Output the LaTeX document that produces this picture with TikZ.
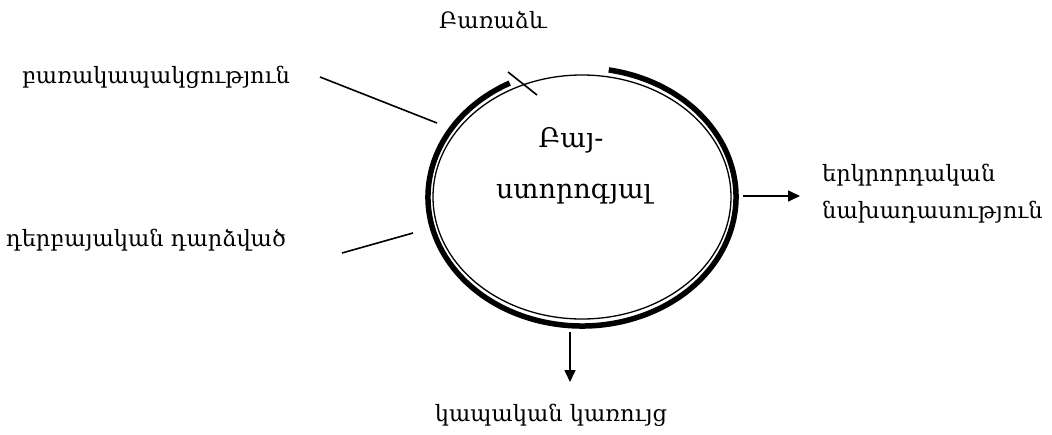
\documentclass[tikz,border=0pt]{standalone}
\usepackage{fontspec}
\setmainfont{DejaVu Serif}
\usetikzlibrary{arrows.meta}
\begin{document}
\begin{tikzpicture}[x=1pt,y=-1pt,
  lbl/.style={font=\fontsize{22.5}{37}\selectfont, inner sep=0pt},
  ctext/.style={font=\fontsize{27}{30}\selectfont, inner sep=0pt},
  conn/.style={line width=1.6pt},
  arr/.style={line width=1.6pt,-{Triangle[length=12pt,width=11pt]}}]
\useasboundingbox (0,0) rectangle (1052,434);
% ellipses
\coordinate (c) at (582,197);
\draw[line width=5.5pt] ([shift={(-118:154 and 129)}]c) arc[start angle=-118,end angle=-440,x radius=154,y radius=129];
\draw[line width=1.3pt] (c) ellipse[x radius=149, y radius=122];
% center text
\node[ctext] (t1) at (571,140) {Բայ-};
\node[ctext] (t2) at (574,194) {ստորոգյալ};
% labels
\node[lbl] (top) at (493,20) {Բառաձև};
\node[lbl] (l1) at (156,77) {բառակապակցություն};
\node[lbl] (l2) at (146,240) {դերբայական դարձված};
\node[lbl, anchor=west, align=left] (r) at (822,194) {երկրորդական\\նախադասություն};
\node[lbl] (b) at (551,415) {կապական կառույց};
% connectors
\coordinate (a1) at (320,77); \coordinate (a2) at (437,123);
\coordinate (b1) at (342,253); \coordinate (b2) at (413,233);
\coordinate (s1) at (508,72); \coordinate (s2) at (537,95);
\coordinate (ra) at (743,196); \coordinate (rb) at (800,196);
\coordinate (da) at (570,332); \coordinate (db) at (570,382);
\draw[conn] (a1) -- (a2);
\draw[conn] (b1) -- (b2);
\draw[conn] (s1) -- (s2);
\draw[arr] (ra) -- (rb);
\draw[arr] (da) -- (db);
\end{tikzpicture}
\end{document}
